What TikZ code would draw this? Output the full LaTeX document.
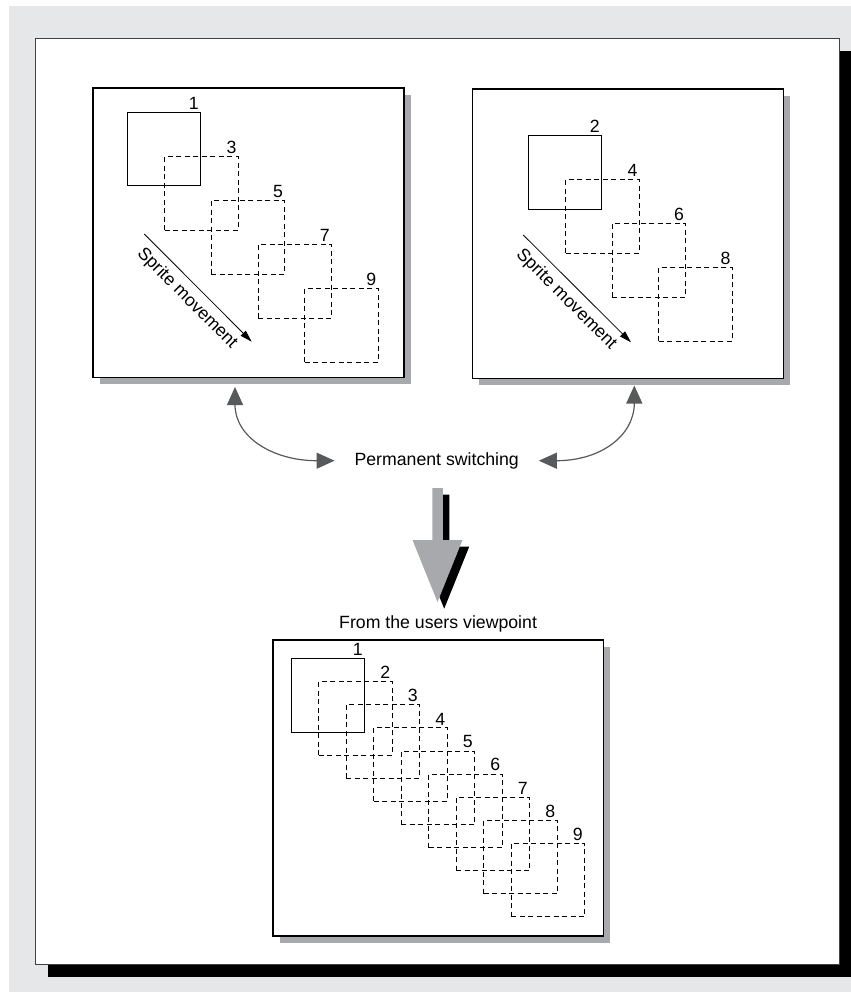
\documentclass[tikz,border=0pt]{standalone}
\usepackage{fontspec}
\setmainfont{Liberation Sans}
\usetikzlibrary{positioning,arrows.meta,calc,shadows}
\definecolor{bggrey}{HTML}{E6E7E8}
\definecolor{shadegrey}{HTML}{A7A9AC}
\definecolor{linkgrey}{HTML}{58595B}
\definecolor{framegrey}{HTML}{414042}

\begin{document}
\begin{tikzpicture}[
  x=0.5pt, y=-0.5pt,
  font=\fontsize{8.85pt}{10.6pt}\selectfont,
  sheet/.style={draw=framegrey, line width=0.7pt, fill=white, anchor=north west, inner sep=0pt,
                minimum width=402pt, minimum height=463pt,
                drop shadow={shadow xshift=6.25pt, shadow yshift=-6.25pt, fill=black, opacity=1}},
  screen/.style={draw, line width=0.6pt, fill=white, anchor=north west, inner sep=0pt,
                 minimum width=155.5pt, minimum height=144.7pt,
                 drop shadow={shadow xshift=3.5pt, shadow yshift=-3.5pt, fill=shadegrey, opacity=1}},
  sprite/.style={draw, line width=0.5pt, anchor=north west, inner sep=0pt, minimum size=36.75pt},
  ghost/.style={sprite, dash pattern=on 2.5pt off 1.75pt},
  num/.style={anchor=south east, inner sep=1pt},
  move/.style={-{Triangle[length=6pt,width=3.5pt]}, line width=0.4pt},
  switcharrow/.style={{Triangle[length=9pt,width=8pt]}-{Triangle[length=9pt,width=8pt]},
                      color=linkgrey, line width=0.6pt}
]
\useasboundingbox (0,0) rectangle (851,992);
\fill[bggrey] (9,6) rectangle (851,992);
\node[sheet] (sheet) at (35,38) {};

\node[screen] (lscreen) at (92.3,87.3) {};
\node[screen] (rscreen) at (471.7,88.3) {};
\node[screen, minimum width=165.2pt, minimum height=148pt] (bscreen) at (272.3,639.3) {};

\node[sprite, label={[num]north east:1}] (l1) at ($(lscreen.north west)+(34.4,24.4)$) {};
\foreach \k [count=\j from 0] in {3,5,7,9}
  \node[ghost, label={[num]north east:\k}] (l\k) at ($(lscreen.north west)+(72+46.6*\j,68.7+44*\j)$) {};

\node[sprite, label={[num]north east:2}] (r2) at ($(rscreen.north west)+(56,46.7)$) {};
\foreach \k [count=\j from 0] in {4,6,8}
  \node[ghost, label={[num]north east:\k}] (r\k) at ($(rscreen.north west)+(93.6+46.5*\j,90.7+44.2*\j)$) {};

\node[sprite, label={[num]north east:1}] (b1) at ($(bscreen.north west)+(18.4,19)$) {};
\foreach \k in {2,...,9}
  \node[ghost, label={[num]north east:\k}] (b\k) at ($(bscreen.north west)+(18.4+27.5*\k-27.5,19+23.05*\k-23.05)$) {};

\coordinate (lm1) at ($(lscreen.north west)+(52,146.7)$);
\coordinate (lm2) at ($(lscreen.north west)+(159.4,254.4)$);
\coordinate (rm1) at ($(rscreen.north west)+(51.6,146.7)$);
\coordinate (rm2) at ($(rscreen.north west)+(159.3,254)$);
\draw[move] (lm1) -- (lm2) node[midway, sloped, below] {Sprite movement};
\draw[move] (rm1) -- (rm2) node[midway, sloped, below] {Sprite movement};

\node[inner xsep=9.8pt] (switch) at (436.7,460.7) {Permanent switching};
\coordinate (lhook) at (235,387);
\coordinate (rhook) at (634.3,385.5);
\draw[switcharrow] (lhook) .. controls +(0,50) and +(-62,0) .. (switch.west);
\draw[switcharrow] (rhook) .. controls +(0,50) and +(62,0) .. (switch.east);

\coordinate (drop) at (437.5,488);
\fill[black] ($(drop)+(6.7,6.7)$) ++(-5.25,0) -- ++(10.5,0) -- ++(0,52) -- ++(19.75,0)
  -- ++(-25,62) -- ++(-25,-62) -- ++(19.75,0) -- cycle;
\fill[shadegrey] (drop) ++(-5.25,0) -- ++(10.5,0) -- ++(0,52) -- ++(19.75,0)
  -- ++(-25,62) -- ++(-25,-62) -- ++(19.75,0) -- cycle;

\node[above=0pt of bscreen] (view) {From the users viewpoint};
\end{tikzpicture}
\end{document}
